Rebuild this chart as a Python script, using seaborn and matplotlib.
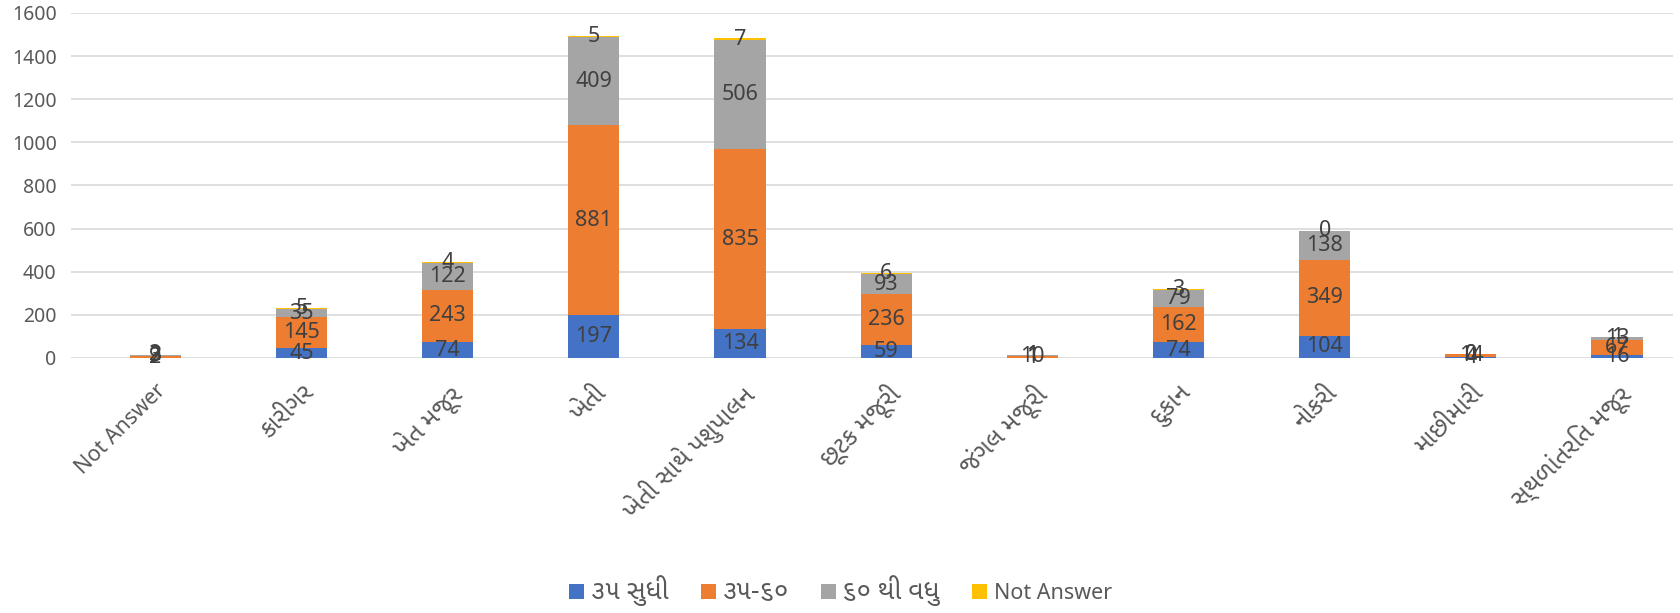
import numpy as np
import pandas as pd
import seaborn as sns
import matplotlib.pyplot as plt
from matplotlib.patches import Patch

# categories (occupation) and series (age groups)
categories = ['Not Answer', 'કારીગર', 'ખેત મજૂર', 'ખેતી', 'ખેતી સાથે પશુપાલન',
              'છૂટક મજૂરી', 'જંગલ મજૂરી', 'દુકાન', 'નોકરી', 'માછીમારી',
              'સ્થળાંતરિત મજૂર']
series_names = ['૩૫ સુધી', '૩૫-૬૦', '૬૦ થી વધુ', 'Not Answer']
upto_35 = [2, 45, 74, 197, 134, 59, 1, 74, 104, 4, 16]
from_35_60 = [9, 145, 243, 881, 835, 236, 10, 162, 349, 14, 67]
above_60 = [3, 35, 122, 409, 506, 93, 1, 79, 138, 0, 13]
not_answer = [2, 5, 4, 5, 7, 6, 1, 3, 0, 0, 1]
colors = ['#4472C4', '#ED7D31', '#A5A5A5', '#FFC000']

sns.set_theme(style="white")
# Gujarati glyphs come from Noto Sans Gujarati UI
plt.rcParams['font.family'] = ['Noto Sans', 'Noto Sans Gujarati UI', 'DejaVu Sans']

f = plt.figure(figsize=(16.81, 6.13), dpi=100)
ax = f.add_axes([0.042, 0.416, 0.953, 0.563])

bottom = np.zeros(len(categories))
for name, vals, col in zip(series_names, [upto_35, from_35_60, above_60, not_answer], colors):
    df = pd.DataFrame({'cat': categories, 'val': vals})
    sns.barplot(data=df, x='cat', y='val', color=col, ax=ax, width=0.35,
                bottom=bottom, saturation=1, linewidth=0, errorbar=None)
    cont = ax.containers[-1]
    ax.bar_label(cont, labels=[str(v) for v in vals], label_type='center',
                 fontsize=15.5, color='#404040')
    bottom = bottom + np.array(vals)

ax.set_ylim(0, 1600)
ax.set_xlim(-0.58, 10.38)
ax.set_yticks(range(0, 1601, 200))
ax.yaxis.grid(True, color='#D9D9D9', linewidth=1.2)
ax.set_axisbelow(True)
for s in ax.spines.values():
    s.set_visible(False)
ax.set_xlabel('')
ax.set_ylabel('')
ax.tick_params(axis='y', labelsize=14, labelcolor='#595959', length=0, pad=10)
ax.tick_params(axis='x', labelsize=15.5, labelcolor='#595959', length=0, pad=16)
plt.setp(ax.get_xticklabels(), rotation=45, ha='right', rotation_mode='anchor')
# gujarati script looks smaller at the same size, bump it
for t in ax.get_xticklabels():
    if not t.get_text().isascii():
        t.set_fontsize(18)

handles = [Patch(facecolor=c, edgecolor='none') for c in colors]
leg = f.legend(handles, series_names, loc='center', bbox_to_anchor=(0.5, 0.037), ncol=4,
               frameon=False, fontsize=15.5, handlelength=0.7, handleheight=0.7,
               handletextpad=0.3, columnspacing=1.5, labelcolor='#595959')
for t in leg.get_texts():
    if not t.get_text().isascii():
        t.set_fontsize(19)

plt.savefig('out.png', dpi=100)
